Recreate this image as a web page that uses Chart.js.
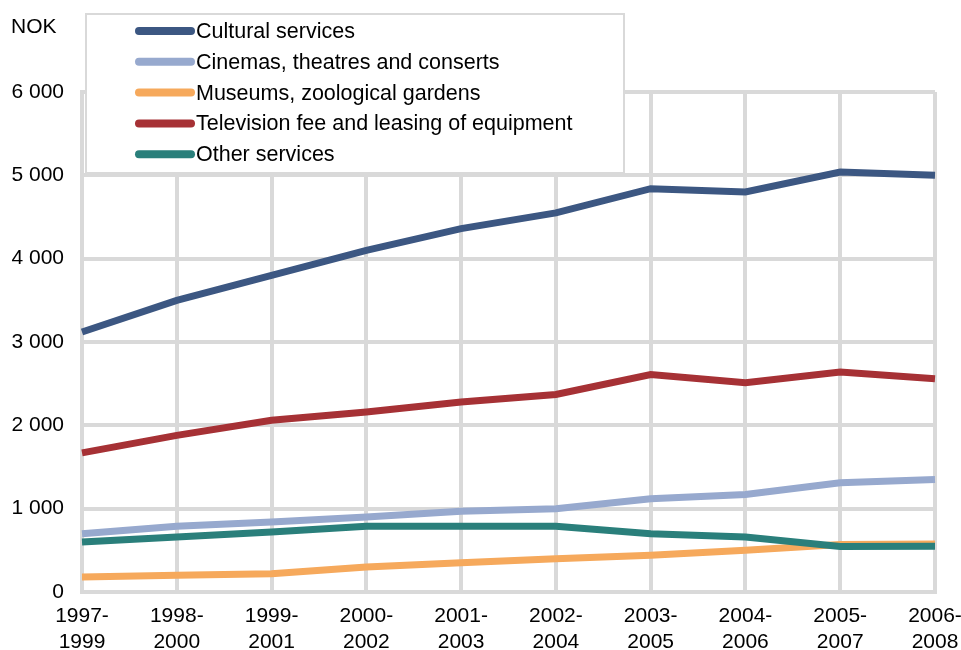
<!DOCTYPE html>
<html>
<head>
<meta charset="utf-8">
<title>Household spending on culture</title>
<script src="https://cdn.jsdelivr.net/npm/chart.js@4/dist/chart.umd.min.js"></script>
<style>
  html, body { margin: 0; padding: 0; background: #fff; }
  canvas { display: block; }
</style>
</head>
<body>
<canvas id="culture" width="961" height="650"></canvas>
<script>
// periods (three-year averages)
const periods = [
    ['1997-', '1999'], ['1998-', '2000'], ['1999-', '2001'], ['2000-', '2002'], ['2001-', '2003'],
    ['2002-', '2004'], ['2003-', '2005'], ['2004-', '2006'], ['2005-', '2007'], ['2006-', '2008']
];

// NOK per household
const cultural   = [3120, 3500, 3800, 4100, 4360, 4550, 4840, 4800, 5040, 5000];
const cinemas    = [700, 790, 840, 900, 970, 1000, 1120, 1170, 1310, 1350];
const museums    = [180, 200, 220, 300, 350, 400, 440, 500, 570, 575];
const television = [1670, 1880, 2060, 2160, 2280, 2370, 2610, 2510, 2640, 2560];
const other      = [600, 660, 720, 790, 790, 790, 700, 660, 545, 550];

const seriesNames = [
    'Cultural services',
    'Cinemas, theatres and conserts',
    'Museums, zoological gardens',
    'Television fee and leasing of equipment',
    'Other services'
];
const seriesColors = ['#3c5782', '#97a9ce', '#f6a95c', '#a63135', '#2a7f7b'];

const yTicks = [0, 1000, 2000, 3000, 4000, 5000, 6000];

const FONT = "'Liberation Sans', Arial, sans-serif";
Chart.defaults.font.family = FONT;
Chart.defaults.font.size = 21;
Chart.defaults.color = '#000';

const GRID = '#d9d9d9';

// thousands with a space: 6 000
function nok(v) {
    return String(v).replace(/\B(?=(\d{3})+(?!\d))/g, ' ');
}

// boxed legend inside the plot + unit label
const boxLegend = {
    id: 'boxLegend',
    afterDraw(chart) {
        const c = chart.ctx;
        c.save();
        c.font = '21px ' + FONT;
        c.fillStyle = '#000';
        c.textBaseline = 'middle';
        c.textAlign = 'left';
        c.fillText('NOK', 11, 27);

        c.fillStyle = '#fff';
        c.fillRect(86, 14, 538, 159);
        c.strokeStyle = GRID;
        c.lineWidth = 2;
        c.strokeRect(86, 14, 538, 159);

        c.font = '21.5px ' + FONT;
        chart.data.datasets.forEach(function (ds, i) {
            const y = 31 + i * 30.8;
            c.strokeStyle = ds.borderColor;
            c.lineWidth = 8;
            c.lineCap = 'round';
            c.beginPath();
            c.moveTo(139, y);
            c.lineTo(191, y);
            c.stroke();
            c.fillStyle = '#000';
            c.fillText(ds.label, 196, y + 1);
        });
        c.restore();
    }
};

const seriesData = [cultural, cinemas, museums, television, other];

const ctx = document.getElementById('culture');
const myChart = new Chart(ctx, {
    type: 'line',
    data: {
        labels: periods,
        datasets: seriesData.map(function (d, i) {
            return {
                label: seriesNames[i],
                data: d,
                borderColor: seriesColors[i],
                backgroundColor: seriesColors[i],
                borderWidth: 7,
                pointRadius: 0,
                tension: 0,
                fill: false,
                order: seriesData.length - i
            };
        })
    },
    options: {
        responsive: false,
        animation: false,
        layout: { padding: { top: 92, right: 0, bottom: 0, left: 0 } },
        plugins: {
            legend: { display: false },
            tooltip: { enabled: false }
        },
        scales: {
            x: {
                offset: false,
                grid: { color: GRID, lineWidth: 4, drawTicks: false, offset: false },
                border: { color: GRID, width: 4 },
                ticks: {
                    padding: 11,
                    maxRotation: 0,
                    autoSkip: false,
                    font: { size: 21, lineHeight: 1.25 }
                },
                afterFit: function (scale) {
                    scale.height = 58;
                    scale.paddingLeft = 0;
                    scale.paddingRight = 26;
                }
            },
            y: {
                min: 0,
                max: 6000,
                afterBuildTicks: function (scale) {
                    scale.ticks = yTicks.map(function (v) { return { value: v }; });
                },
                grid: { color: GRID, lineWidth: 4, drawTicks: false },
                border: { color: GRID, width: 4 },
                ticks: {
                    padding: 18,
                    callback: function (v) { return nok(v); }
                },
                afterFit: function (scale) { scale.width = 82; }
            }
        }
    },
    plugins: [boxLegend]
});
</script>
</body>
</html>
